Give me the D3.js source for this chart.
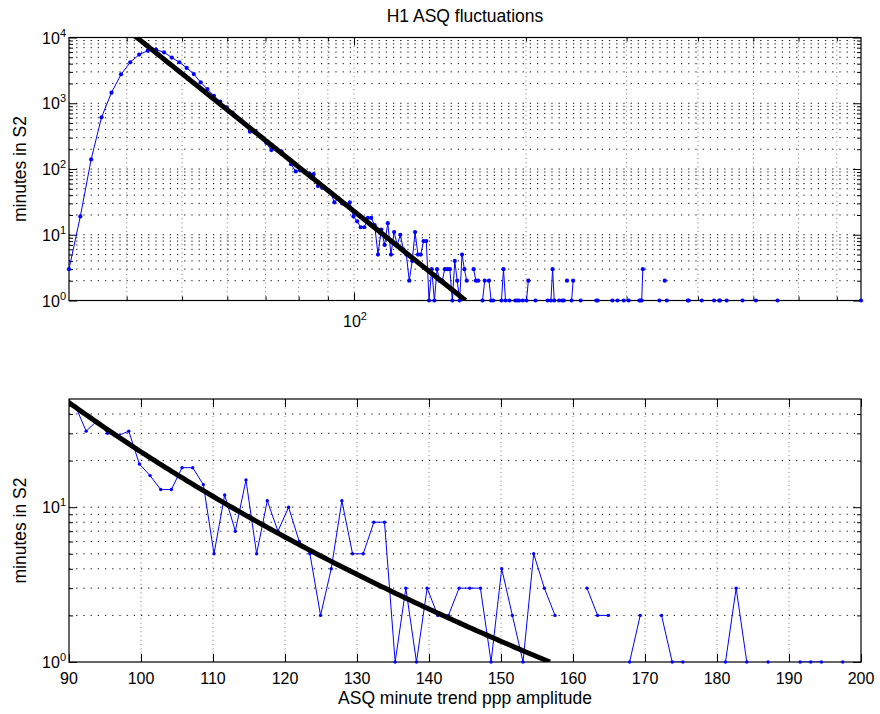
<!DOCTYPE html>
<html>
<head>
<meta charset="utf-8">
<script src="https://cdn.jsdelivr.net/npm/d3@7"></script>
<style>
  body { margin: 0; background: #fff; }
  svg text { font-family: "Liberation Sans", Arial, Helvetica, sans-serif; fill: #000; }
</style>
</head>
<body>
<svg id="chart" width="880" height="714"></svg>
<script>
// histogram of ASQ minute trend amplitude, bin centres = binStart + k*binWidth
const binStart = 31.7;
const binWidth = 1.48;

// minutes per bin, bins 0..113 (0 = empty bin, not drawn on log axis)
const countsLow = [
  3, 19, 140, 610, 1450, 2750, 4200, 5500, 6300, 6550,
  5950, 4950, 4200, 3450, 2780, 2080, 1640, 1300, 1055, 866,
  720, 585, 480, 370, 376, 310, 250, 194, 205, 185,
  150, 118, 92, 96, 88, 86, 84, 55, 52, 50,
  45, 31, 36, 30, 29, 31, 19, 16, 13, 13,
  18, 18, 14, 5, 12, 7, 15, 5, 11, 7,
  10, 6, 5, 2, 4, 11, 5, 5, 8, 8,
  1, 3, 1, 3, 2, 2, 3, 3, 3, 1,
  4, 2, 1, 5, 3, 2, 0, 0, 3, 2,
  2, 0, 1, 2, 0, 2, 1, 1, 0, 0,
  0, 1, 3, 1, 0, 1, 0, 0, 1, 1,
  1, 0, 1, 0
];

// sparse high-amplitude bins: [bin index, minutes]
const countsHigh = [
  [114, 1], [115, 2], [119, 1], [126, 1], [128, 1], [129, 3], [130, 1],
  [133, 1], [135, 1], [136, 1], [138, 2], [141, 1], [142, 2], [147, 1],
  [158, 1], [159, 1], [170, 1], [174, 1], [179, 1], [183, 1],
  [192, 1], [193, 1], [194, 1], [195, 3], [210, 1], [215, 2], [217, 1],
  [238, 1], [239, 1], [253, 1], [267, 1], [273, 1], [274, 1], [282, 1],
  [302, 1], [320, 1], [351, 1], [500, 1]
];

// power law fit: minutes = (amp / fitUnitAmp) ^ fitExponent
const fitExponent = -6.95;
const fitUnitAmp = 156.8;

const topYDecades = [0, 1, 2, 3, 4];
const topXDecades = [2];
const bottomXTicks = [90, 100, 110, 120, 130, 140, 150, 160, 170, 180, 190, 200];
const bottomYDecades = [0, 1];
const bottomYMax = 50;

const titleText = "H1 ASQ fluctuations";
const yLabelText = "minutes in S2";
const xLabelText = "ASQ minute trend ppp amplitude";

// ---------------------------------------------------------------
const nBins = d3.max(countsHigh, d => d[0]) + 1;
const bins = d3.range(nBins).map(k => ({ x: binStart + k * binWidth, c: 0 }));
countsLow.forEach((c, k) => { bins[k].c = c; });
countsHigh.forEach(([k, c]) => { bins[k].c = c; });
const filled = bins.filter(d => d.c > 0);

const fitPts = d3.range(0, 301).map(i => {
  const x = binStart + (fitUnitAmp - binStart) * i / 300;
  return { x: x, c: Math.pow(x / fitUnitAmp, fitExponent) };
});

const svg = d3.select("#chart");
const L = 69, R = 861;
const topBox = { t: 37.5, b: 300.5 };
const botBox = { t: 399, b: 662 };
const majorLen = 8, minorLen = 4;
const labelSize = "17.5px";

const xTop = d3.scaleLog().domain(d3.extent(filled, d => d.x)).range([L, R]);
const yTop = d3.scaleLog().domain([1, 1e4]).range([topBox.b, topBox.t]);
const xBot = d3.scaleLinear().domain(d3.extent(bottomXTicks)).range([L, R]);
const yBot = d3.scaleLog().domain([1, bottomYMax]).range([botBox.b, botBox.t]);

const isDecade = v => Math.abs(Math.log10(v) - Math.round(Math.log10(v))) < 1e-9;

function ticksOnly(g, axisFn, scale, values, size, tx, ty) {
  g.append("g")
    .attr("transform", `translate(${tx},${ty})`)
    .call(axisFn(scale).tickValues(values).tickSize(-size).tickSizeOuter(0).tickFormat(""))
    .call(s => s.select(".domain").remove())
    .selectAll("line").attr("stroke", "#000");
}

function powLabel(g, x, y, exp, anchor) {
  const t = g.append("text")
    .attr("x", x).attr("y", y)
    .attr("text-anchor", anchor)
    .style("font-size", "16px");
  t.append("tspan").text("10");
  t.append("tspan").attr("dy", "-0.62em").style("font-size", "11px").text(exp);
}

function drawPanel(id, x, y, box, xMajor, xMinor, yMajor, yMinor, xGrid, yGrid, dotR) {
  const g = svg.append("g").attr("class", id);
  const clipId = "clip-" + id;
  svg.append("clipPath").attr("id", clipId)
    .append("rect").attr("x", L).attr("y", box.t).attr("width", R - L).attr("height", box.b - box.t);

  // dotted grid
  g.append("g").selectAll("line").data(xGrid).join("line")
    .attr("x1", d => x(d)).attr("x2", d => x(d))
    .attr("y1", box.t).attr("y2", box.b)
    .attr("stroke", "#777").attr("stroke-width", 1)
    .attr("stroke-dasharray", "1,3.3");
  g.append("g").selectAll("line").data(yGrid).join("line")
    .attr("x1", L).attr("x2", R)
    .attr("y1", d => y(d)).attr("y2", d => y(d))
    .attr("stroke", "#000").attr("stroke-width", 1)
    .attr("stroke-dasharray", "1.2,6");

  // frame and ticks
  g.append("rect").attr("x", L).attr("y", box.t).attr("width", R - L).attr("height", box.b - box.t)
    .attr("fill", "none").attr("stroke", "#000").attr("stroke-width", 1.2);
  ticksOnly(g, d3.axisBottom, x, xMajor, majorLen, 0, box.b);
  ticksOnly(g, d3.axisTop, x, xMajor, majorLen, 0, box.t);
  ticksOnly(g, d3.axisBottom, x, xMinor, minorLen, 0, box.b);
  ticksOnly(g, d3.axisTop, x, xMinor, minorLen, 0, box.t);
  ticksOnly(g, d3.axisLeft, y, yMajor, majorLen, L, 0);
  ticksOnly(g, d3.axisRight, y, yMajor, majorLen, R, 0);
  ticksOnly(g, d3.axisLeft, y, yMinor, minorLen, L, 0);
  ticksOnly(g, d3.axisRight, y, yMinor, minorLen, R, 0);

  // data
  const line = d3.line().defined(d => d.c > 0).x(d => x(d.x)).y(d => y(d.c));
  g.append("path").datum(bins)
    .attr("clip-path", `url(#${clipId})`)
    .attr("d", line)
    .attr("fill", "none").attr("stroke", "#0000ff").attr("stroke-width", 1);
  const [x0, x1] = x.domain();
  g.append("g").selectAll("circle")
    .data(filled.filter(d => d.x >= x0 - 1e-9 && d.x <= x1 + 1e-9))
    .join("circle")
    .attr("cx", d => x(d.x)).attr("cy", d => y(d.c)).attr("r", dotR)
    .attr("fill", "#0000ff");

  const fitLine = d3.line().x(d => x(d.x)).y(d => y(d.c));
  g.append("path").datum(fitPts)
    .attr("clip-path", `url(#${clipId})`)
    .attr("d", fitLine)
    .attr("fill", "none").attr("stroke", "#000").attr("stroke-width", 5);
  return g;
}

// ---- top panel: log-log ----
const topXTickVals = xTop.ticks();
const topYTickVals = yTop.ticks();
const gTop = drawPanel("top", xTop, yTop, topBox,
  topXDecades.map(e => Math.pow(10, e)),
  topXTickVals.filter(v => !isDecade(v)),
  topYDecades.map(e => Math.pow(10, e)),
  topYTickVals.filter(v => !isDecade(v)),
  topXTickVals,
  topYTickVals.filter(v => v > 1 && v < 1e4),
  2.1);
topYDecades.forEach(e => powLabel(gTop, 66, yTop(Math.pow(10, e)) + 6, e, "end"));
topXDecades.forEach(e => powLabel(gTop, xTop(Math.pow(10, e)) + 1, 327, e, "middle"));

// ---- bottom panel: linear x, log y ----
const botYTickVals = yBot.ticks();
const gBot = drawPanel("bot", xBot, yBot, botBox,
  bottomXTicks, [],
  bottomYDecades.map(e => Math.pow(10, e)),
  botYTickVals.filter(v => !isDecade(v) && v < bottomYMax),
  bottomXTicks.slice(1, -1),
  botYTickVals.filter(v => v > 1 && v < bottomYMax),
  1.7);
bottomYDecades.forEach(e => powLabel(gBot, 66, yBot(Math.pow(10, e)) + 6, e, "end"));
gBot.append("g").selectAll("text").data(bottomXTicks).join("text")
  .attr("x", d => xBot(d)).attr("y", 684)
  .attr("text-anchor", "middle").style("font-size", "16px")
  .text(d => d);

// ---- texts ----
svg.append("text").attr("x", (L + R) / 2).attr("y", 22)
  .attr("text-anchor", "middle").style("font-size", labelSize).text(titleText);
[topBox, botBox].forEach(b => {
  svg.append("text")
    .attr("transform", `translate(26,${(b.t + b.b) / 2}) rotate(-90)`)
    .attr("text-anchor", "middle").style("font-size", labelSize).text(yLabelText);
});
svg.append("text").attr("x", (L + R) / 2).attr("y", 704)
  .attr("text-anchor", "middle").style("font-size", labelSize).text(xLabelText);
</script>
</body>
</html>
